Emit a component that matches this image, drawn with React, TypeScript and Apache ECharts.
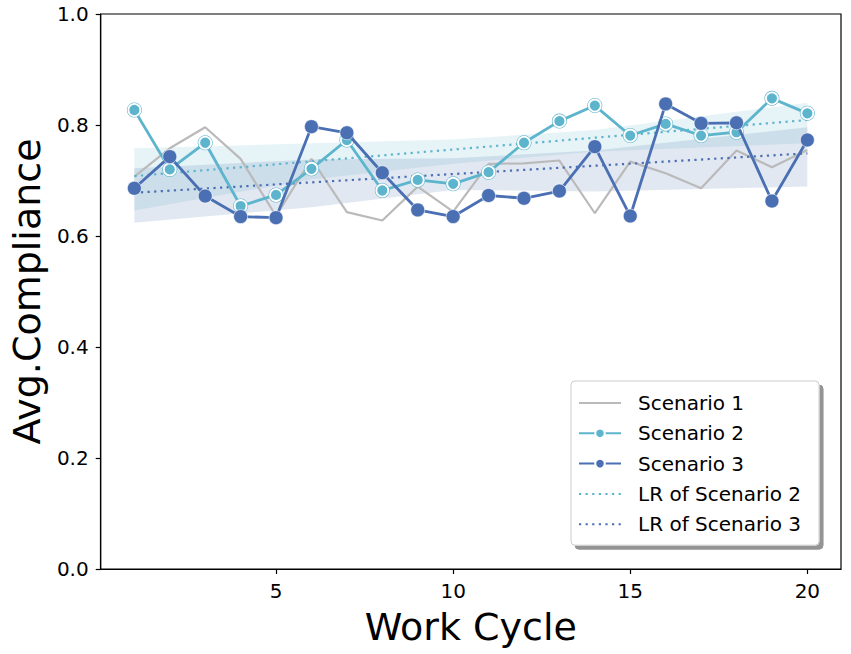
import React, { useEffect, useRef } from "react";
import * as echarts from "echarts";

const FONT = "DejaVu Sans";

const cycles = [1, 2, 3, 4, 5, 6, 7, 8, 9, 10, 11, 12, 13, 14, 15, 16, 17, 18, 19, 20];
const scenario1 = [0.707, 0.758, 0.796, 0.739, 0.636, 0.739, 0.643, 0.628, 0.689, 0.644, 0.730, 0.731, 0.736, 0.641, 0.734, 0.713, 0.686, 0.754, 0.724, 0.755];
const scenario2 = [0.827, 0.720, 0.768, 0.654, 0.674, 0.721, 0.773, 0.682, 0.701, 0.694, 0.715, 0.768, 0.807, 0.835, 0.781, 0.802, 0.781, 0.787, 0.848, 0.821];
const scenario3 = [0.686, 0.743, 0.672, 0.635, 0.633, 0.797, 0.786, 0.714, 0.647, 0.635, 0.673, 0.668, 0.681, 0.761, 0.636, 0.838, 0.803, 0.804, 0.663, 0.773];

const lrX = [1, 20];
const lr2 = [0.708, 0.809];
const lr3 = [0.678, 0.749];

const bandX = [1, 6, 10, 14, 20];
const band2Lo = [0.646, 0.702, 0.730, 0.752, 0.767];
const band2Hi = [0.758, 0.767, 0.774, 0.791, 0.840];
const band3Lo = [0.624, 0.652, 0.683, 0.680, 0.689];
const band3Hi = [0.722, 0.738, 0.740, 0.754, 0.796];

const xTicks = [5, 10, 15, 20];
const legendNames = ["Scenario 1", "Scenario 2", "Scenario 3", "LR of Scenario 2", "LR of Scenario 3"];
const legendNoMarker = ["Scenario 1", "LR of Scenario 2", "LR of Scenario 3"];

const GRAY = "#bababa";
const CYAN = "#5db4cd";
const BLUE = "#4a6fb3";

function bandSeries(lo: number[], hi: number[], fill: string) {
  return {
    type: "custom",
    silent: true,
    z: 1,
    data: bandX.map((x, i) => [x, lo[i], hi[i]]),
    encode: { x: 0, y: [1, 2] },
    renderItem: (params: any, api: any) => {
      if (params.dataIndex !== 0) return null;
      const pts: number[][] = [];
      for (let i = 0; i < bandX.length; i++) pts.push(api.coord([bandX[i], hi[i]]));
      for (let i = bandX.length - 1; i >= 0; i--) pts.push(api.coord([bandX[i], lo[i]]));
      return { type: "polygon", shape: { points: pts }, style: { fill, stroke: "none" } };
    },
  };
}

export default function App() {
  const ref = useRef<HTMLDivElement>(null);
  useEffect(() => {
    if (!ref.current) return;
    const chart = echarts.init(ref.current, undefined, { renderer: "svg" });
    const option: any = {
      animation: false,
      backgroundColor: "#fff",
      textStyle: { fontFamily: FONT },
      grid: { left: 98, right: 10, top: 14, bottom: 85, show: true, borderColor: "#000", borderWidth: 1.2, backgroundColor: "transparent" },
      xAxis: {
        type: "value",
        min: 0.05,
        max: 20.95,
        name: "Work Cycle",
        nameLocation: "middle",
        nameGap: 39,
        nameTextStyle: { fontSize: 38, color: "#000", fontFamily: FONT },
        axisLine: { show: true, lineStyle: { color: "#000", width: 1.2 } },
        axisTick: { show: true, length: 5, customValues: xTicks, lineStyle: { color: "#000", width: 1.2 } },
        axisLabel: { customValues: xTicks, fontSize: 20, color: "#000", margin: 12, fontFamily: FONT },
        splitLine: { show: false },
      },
      yAxis: {
        type: "value",
        min: 0,
        max: 1,
        interval: 0.2,
        name: "Avg.Compliance",
        nameLocation: "middle",
        nameGap: 49,
        nameRotate: 90,
        nameTextStyle: { fontSize: 38, color: "#000", fontFamily: FONT },
        axisLine: { show: true, lineStyle: { color: "#000", width: 1.2 } },
        axisTick: { show: true, length: 5, lineStyle: { color: "#000", width: 1.2 } },
        axisLabel: { fontSize: 20, color: "#000", margin: 12, fontFamily: FONT, formatter: (v: number) => v.toFixed(1) },
        splitLine: { show: false },
      },
      legend: {
        data: legendNames.map((n) =>
          legendNoMarker.includes(n)
            ? { name: n, itemStyle: { color: "rgba(0,0,0,0)", borderColor: "rgba(0,0,0,0)", borderWidth: 0, opacity: 0 } }
            : { name: n }
        ),
        orient: "vertical",
        left: 571,
        top: 381,
        itemWidth: 42,
        itemHeight: 12,
        itemGap: 8.3,
        padding: [11, 18, 10, 7],
        backgroundColor: "#fff",
        borderColor: "#cccccc",
        borderWidth: 1,
        borderRadius: 4,
        shadowColor: "rgba(0,0,0,0.42)",
        shadowOffsetX: 4,
        shadowOffsetY: 4,
        shadowBlur: 0,
        textStyle: { fontSize: 20, lineHeight: 22, color: "#000", fontFamily: FONT, padding: [0, 0, 0, 12] },
      },
      series: [
        bandSeries(band2Lo, band2Hi, "rgba(100,181,205,0.16)"),
        bandSeries(band3Lo, band3Hi, "rgba(76,114,176,0.16)"),
        {
          name: "Scenario 1",
          type: "line",
          z: 2,
          data: cycles.map((c, i) => [c, scenario1[i]]),
          symbol: "none",
          lineStyle: { color: GRAY, width: 2.2 },
          itemStyle: { color: GRAY },
        },
        {
          name: "LR of Scenario 2",
          type: "line",
          z: 3,
          data: lrX.map((c, i) => [c, lr2[i]]),
          symbol: "none",
          lineStyle: { color: CYAN, width: 2.2, type: [2.2, 4.4] },
          itemStyle: { color: CYAN },
        },
        {
          name: "LR of Scenario 3",
          type: "line",
          z: 3,
          data: lrX.map((c, i) => [c, lr3[i]]),
          symbol: "none",
          lineStyle: { color: BLUE, width: 2.2, type: [2.2, 4.4] },
          itemStyle: { color: BLUE },
        },
        {
          name: "s2ring",
          type: "scatter",
          z: 4,
          data: cycles.map((c, i) => [c, scenario2[i]]),
          symbol: "circle",
          symbolSize: 15,
          itemStyle: { color: CYAN, opacity: 1 },
          silent: true,
        },
        {
          name: "Scenario 2",
          type: "line",
          z: 5,
          data: cycles.map((c, i) => [c, scenario2[i]]),
          symbol: "circle",
          symbolSize: 12,
          showAllSymbol: true,
          lineStyle: { color: CYAN, width: 2.8 },
          itemStyle: { color: CYAN, borderColor: "#fff", borderWidth: 1.8 },
        },
        {
          name: "Scenario 3",
          type: "line",
          z: 6,
          data: cycles.map((c, i) => [c, scenario3[i]]),
          symbol: "circle",
          symbolSize: 14,
          showAllSymbol: true,
          lineStyle: { color: BLUE, width: 2.8 },
          itemStyle: { color: BLUE, borderColor: "#fff", borderWidth: 0.6 },
        },
      ],
    };
    chart.setOption(option);
    return () => chart.dispose();
  }, []);
  return <div ref={ref} style={{ position: "absolute", left: 0, top: 0, width: 851, height: 654 }} />;
}
